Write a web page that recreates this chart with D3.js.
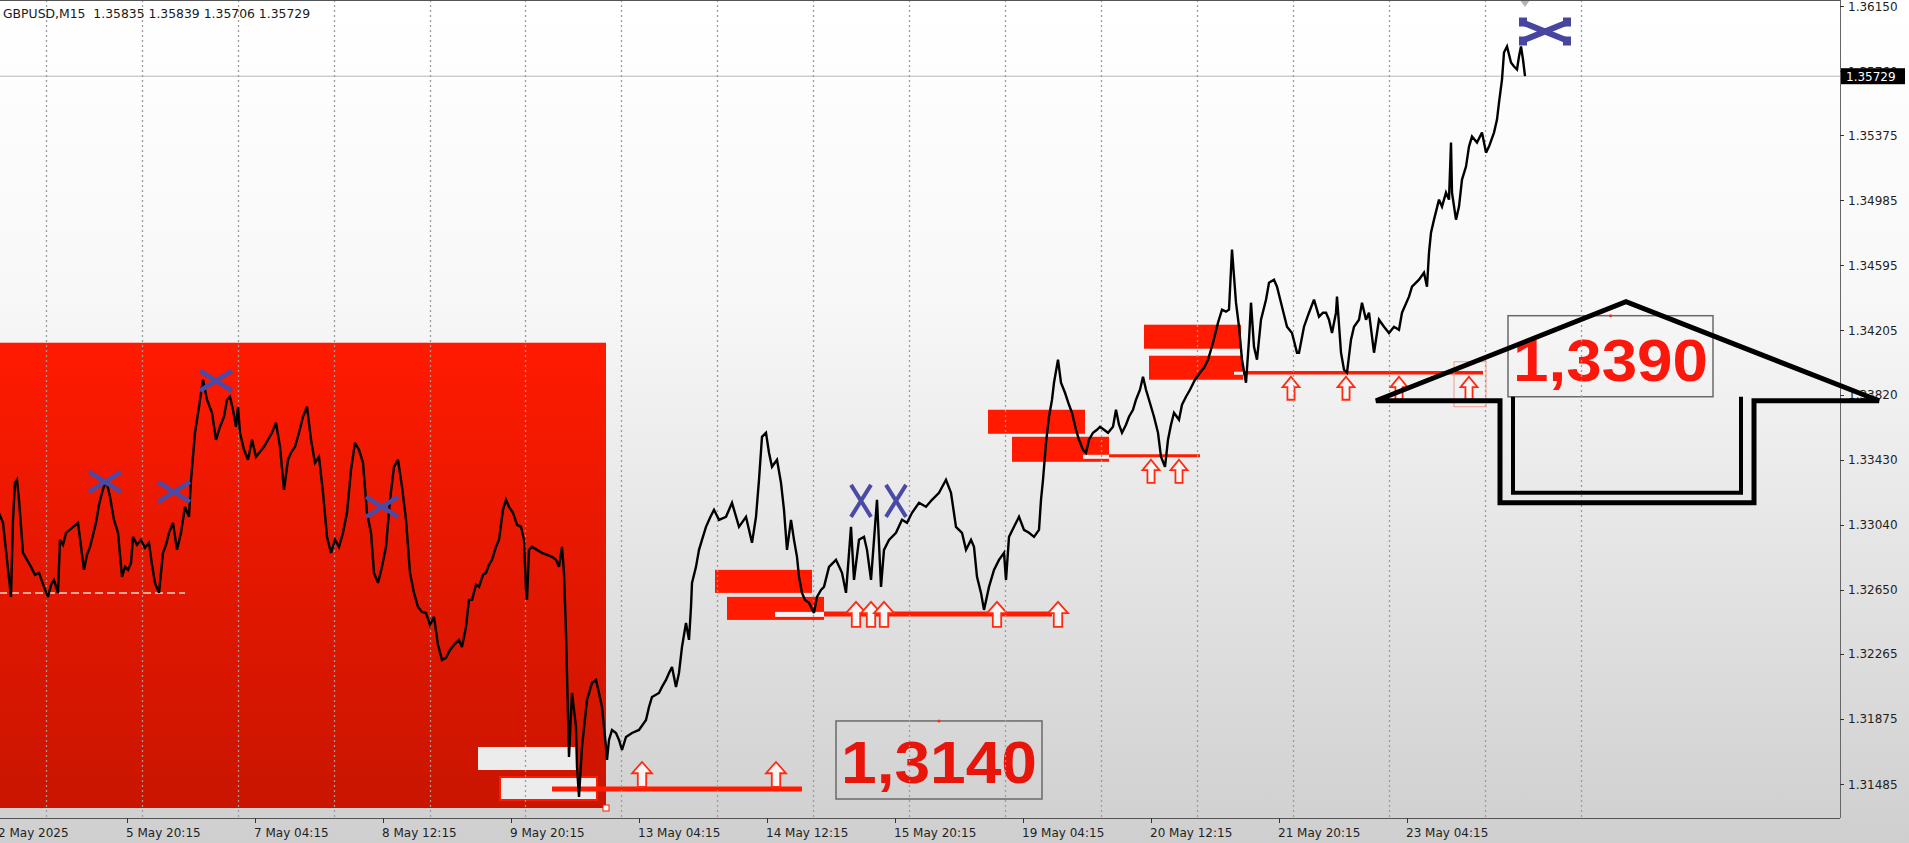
<!DOCTYPE html>
<html><head><meta charset="utf-8">
<script src="https://cdn.jsdelivr.net/npm/d3@7"></script>
<style>
html,body{margin:0;padding:0;background:#fff;overflow:hidden}
svg{display:block}
</style></head><body>
<svg id="c" width="1909" height="843"></svg>
<script>
// ---------- DATA ----------
const symbolTitle = "GBPUSD,M15  1.35835 1.35839 1.35706 1.35729";
const lastPrice = 1.35729;
const priceTicks = [1.36150,1.35760,1.35375,1.34985,1.34595,1.34205,1.33820,1.33430,1.33040,1.32650,1.32265,1.31875,1.31485];
// time axis: M15 bar number counted from 2 May 2025 12:15
const timeTickBars = [0,128,256,384,512,640,768,896,1024,1152,1280,1408];
const timeTickLabels = ["2 May 2025","5 May 20:15","7 May 04:15","8 May 12:15","9 May 20:15","13 May 04:15","14 May 12:15","15 May 20:15","19 May 04:15","20 May 12:15","21 May 20:15","23 May 04:15"];
const daySeparatorBars = [47,143,239,335,431,526,622,718,814,910,1006,1102,1198,1294,1390,1486,1582];
// [bar, price]
const gbpusd = [[0,1.33111],[4,1.33051],[8,1.32829],[12,1.32607],[14,1.33069],[16,1.33291],[18,1.33309],[20,1.33189],[24,1.32871],[28,1.32829],[32,1.32787],[36,1.32739],[40,1.32751],[45,1.32667],[49,1.32607],[52,1.32679],[55,1.32709],[59,1.32631],[61,1.32949],[64,1.32919],[67,1.32991],[73,1.33021],[79,1.33051],[85,1.32769],[88,1.32859],[91,1.32907],[97,1.33051],[100,1.33159],[103,1.33231],[107,1.33309],[111,1.33207],[115,1.33069],[119,1.32991],[123,1.32727],[126,1.32787],[129,1.32769],[132,1.32811],[134,1.32967],[138,1.32919],[142,1.32949],[146,1.32901],[150,1.32931],[153,1.32799],[156,1.32691],[160,1.32631],[164,1.32871],[167,1.32919],[170,1.32991],[174,1.33051],[178,1.32889],[182,1.32991],[186,1.33147],[190,1.33087],[192,1.33309],[196,1.33591],[200,1.33747],[204,1.33909],[208,1.33789],[213,1.33711],[217,1.33549],[221,1.33627],[225,1.33687],[228,1.33789],[231,1.33807],[234,1.33729],[237,1.33627],[239,1.33747],[241,1.33591],[245,1.33489],[249,1.33429],[253,1.33549],[257,1.33447],[261,1.33477],[265,1.33507],[269,1.33549],[273,1.33591],[277,1.33651],[281,1.33507],[285,1.33249],[289,1.33429],[292,1.33471],[296,1.33507],[300,1.33591],[304,1.33687],[308,1.33747],[312,1.33549],[316,1.33411],[320,1.33447],[324,1.33231],[328,1.32967],[332,1.32871],[336,1.32949],[340,1.32907],[344,1.32991],[348,1.33111],[352,1.33369],[356,1.33531],[360,1.33489],[364,1.33411],[368,1.33111],[372,1.32991],[375,1.32751],[379,1.32691],[383,1.32787],[387,1.32907],[391,1.33189],[395,1.33387],[399,1.33429],[403,1.33267],[407,1.33069],[411,1.32751],[415,1.32631],[419,1.32547],[423,1.32517],[427,1.32511],[431,1.32439],[435,1.32487],[439,1.32319],[443,1.32229],[447,1.32241],[451,1.32289],[455,1.32319],[460,1.32349],[463,1.32307],[467,1.32427],[470,1.32589],[473,1.32589],[477,1.32679],[480,1.32667],[484,1.32739],[487,1.32751],[490,1.32799],[493,1.32829],[497,1.32907],[500,1.32949],[504,1.33129],[507,1.33189],[510,1.33147],[514,1.33111],[518,1.33039],[522,1.33027],[525,1.32949],[527,1.32649],[528,1.32589],[530,1.32889],[533,1.32907],[538,1.32889],[543,1.32871],[548,1.32859],[553,1.32847],[557,1.32829],[560,1.32787],[563,1.32907],[565,1.32751],[567,1.32391],[570,1.31647],[573,1.32031],[575,1.31929],[577,1.31827],[578,1.31587],[580,1.31407],[583,1.31707],[588,1.31989],[593,1.32091],[597,1.32109],[600,1.32031],[603,1.31947],[607,1.31707],[608,1.31629],[610,1.31749],[613,1.31809],[617,1.31791],[620,1.31749],[623,1.31689],[627,1.31767],[633,1.31791],[640,1.31809],[647,1.31869],[650,1.31947],[653,1.32007],[660,1.32031],[663,1.32067],[667,1.32109],[670,1.32151],[673,1.32187],[677,1.32067],[680,1.32151],[683,1.32307],[687,1.32451],[690,1.32349],[692,1.32547],[693,1.32691],[697,1.32787],[700,1.32889],[703,1.32949],[707,1.33027],[711,1.33081],[715,1.33129],[720,1.33069],[727,1.33087],[733,1.33171],[740,1.33027],[747,1.33087],[753,1.32931],[757,1.33087],[760,1.33309],[763,1.33567],[767,1.33591],[770,1.33471],[773,1.33387],[778,1.33429],[782,1.33291],[785,1.33129],[788,1.32889],[792,1.33069],[795,1.32949],[798,1.32847],[800,1.32727],[803,1.32631],[806,1.32589],[810,1.32571],[815,1.32511],[818,1.32607],[822,1.32649],[825,1.32667],[830,1.32787],[837,1.32829],[843,1.32751],[847,1.32631],[852,1.33027],[855,1.32709],[860,1.32949],[865,1.32967],[868,1.32889],[872,1.32709],[875,1.32949],[878,1.33189],[882,1.32667],[885,1.32889],[890,1.32949],[897,1.32991],[903,1.33069],[908,1.33051],[913,1.33111],[920,1.33171],[927,1.33147],[933,1.33189],[940,1.33231],[947,1.33309],[952,1.33231],[957,1.33027],[963,1.32991],[967,1.32889],[972,1.32949],[975,1.32907],[978,1.32727],[982,1.32631],[985,1.32529],[990,1.32667],[995,1.32769],[1000,1.32829],[1005,1.32871],[1007,1.32709],[1010,1.32967],[1015,1.33027],[1020,1.33087],[1025,1.33009],[1030,1.32991],[1035,1.32967],[1040,1.33009],[1042,1.33189],[1044,1.33309],[1047,1.33531],[1050,1.33687],[1053,1.33789],[1055,1.33891],[1059,1.34029],[1062,1.33891],[1066,1.33831],[1070,1.33759],[1073,1.33711],[1077,1.33609],[1080,1.33549],[1084,1.33489],[1087,1.33471],[1090,1.33549],[1094,1.33591],[1098,1.33609],[1101,1.33627],[1105,1.33609],[1109,1.33591],[1114,1.33627],[1117,1.33729],[1120,1.33639],[1123,1.33591],[1127,1.33639],[1130,1.33687],[1134,1.33729],[1137,1.33789],[1141,1.33849],[1144,1.33927],[1147,1.33849],[1150,1.33789],[1155,1.33687],[1159,1.33591],[1162,1.33447],[1166,1.33387],[1169,1.33549],[1172,1.33639],[1175,1.33711],[1180,1.33669],[1183,1.33759],[1187,1.33807],[1191,1.33849],[1196,1.33909],[1201,1.33951],[1205,1.33981],[1209,1.34029],[1214,1.34131],[1219,1.34251],[1223,1.34329],[1227,1.34317],[1230,1.34329],[1233,1.34689],[1237,1.34371],[1240,1.34227],[1243,1.34029],[1247,1.33891],[1250,1.34149],[1252,1.34371],[1255,1.34107],[1258,1.34029],[1262,1.34269],[1267,1.34389],[1270,1.34491],[1275,1.34509],[1278,1.34467],[1283,1.34347],[1288,1.34227],[1293,1.34189],[1298,1.34071],[1300,1.34071],[1305,1.34227],[1310,1.34311],[1315,1.34389],[1320,1.34287],[1324,1.34311],[1327,1.34311],[1330,1.34269],[1333,1.34189],[1337,1.34311],[1338,1.34407],[1342,1.34071],[1345,1.33969],[1348,1.33951],[1352,1.34149],[1355,1.34227],[1360,1.34269],[1363,1.34371],[1367,1.34269],[1370,1.34311],[1375,1.34071],[1380,1.34269],[1385,1.34227],[1390,1.34189],[1395,1.34227],[1400,1.34209],[1403,1.34311],[1410,1.34407],[1413,1.34467],[1420,1.34509],[1425,1.34551],[1428,1.34467],[1430,1.34671],[1432,1.34791],[1435,1.34869],[1440,1.34989],[1443,1.34947],[1447,1.35031],[1450,1.34989],[1452,1.35331],[1453,1.35031],[1457,1.34869],[1460,1.34947],[1463,1.35109],[1467,1.35187],[1470,1.35307],[1473,1.35367],[1478,1.35331],[1483,1.35391],[1487,1.35271],[1490,1.35307],[1495,1.35391],[1498,1.35469],[1500,1.35571],[1503,1.35709],[1505,1.35871],[1508,1.35907],[1512,1.35811],[1515,1.35787],[1518,1.35769],[1520,1.35847],[1522,1.35907],[1524,1.35829],[1526,1.35729]];

// annotation objects: [startBar, endBar, topPrice, bottomPrice]
const bigZone = [0, 607, 1.34131, 1.31341];
const clearZones = [[479,577,1.31707,1.31569],[501,598,1.31527,1.31389]];
const redZones = [[716,813,1.32769,1.32631],[728,825,1.32607,1.32469],[989,1086,1.33729,1.33585],[1013,1110,1.33567,1.33417],[1145,1242,1.34239,1.34095],[1150,1244,1.34053,1.33909]];
const zoneStrips = [[776,825,1.32517,1.32487],[1084,1110,1.33459,1.33435],[1235,1244,1.33957,1.33939]];
// [startBar, endBar, price]
const supportLines = [[553,803,1.31455],[825,1053,1.32505],[1110,1201,1.33453],[1244,1484,1.33951]];
const dashedLevel = [0,186,1.32631];
// [bar, tipPrice]
const upArrows = [[643,1.31617],[777,1.31617],[857,1.32577],[872,1.32577],[885,1.32577],[998,1.32577],[1059,1.32577],[1152,1.33429],[1180,1.33429],[1292,1.33927],[1347,1.33927],[1400,1.33927],[1470,1.33927]];
const selectedArrowBox = [1455,1487,1.34017,1.33747];
const wideCrosses = [[106,1.33297],[175,1.33237],[217,1.33903],[383,1.33147]];
const tallCrosses = [[862,1.33183],[897,1.33183]];
const topCross = [1546,1.35997];
const levelLabels = ["1,3140","1,3390"];
const levelBoxes = [[837,1043,1.31863,1.31395],[1509,1714,1.34293,1.33807]];
const bigArrowRoof = [[1377,1.33783],[1627,1.34377],[1880,1.33783]];
const bigArrowStem = [1501,1755,1.33171];
const bigArrowInner = [1514,1742,1.33807,1.33231];

// ---------- DRAW ----------
const W=1909,H=843, plotR=1840, plotB=818;
const x = d3.scaleLinear().domain([0,1841]).range([-1,1840]);
const y = d3.scaleLinear().domain([1.31485,1.36150]).range([784,6]);
const svg = d3.select("#c");
const defs = svg.append("defs");
const bg = defs.append("linearGradient").attr("id","bg").attr("x1",0).attr("y1",0).attr("x2",0).attr("y2",1);
bg.append("stop").attr("offset","0").attr("stop-color","#ffffff");
bg.append("stop").attr("offset","0.35").attr("stop-color","#f8f8f8");
bg.append("stop").attr("offset","1").attr("stop-color","#cfcfcf");
const rg = defs.append("linearGradient").attr("id","rg").attr("x1",0).attr("y1",0).attr("x2",0).attr("y2",1);
rg.append("stop").attr("offset","0").attr("stop-color","#ff1a00");
rg.append("stop").attr("offset","1").attr("stop-color","#c91500");
defs.append("clipPath").attr("id","plot").append("rect").attr("x",0).attr("y",0).attr("width",plotR).attr("height",plotB);

svg.append("rect").attr("width",W).attr("height",H).attr("fill","url(#bg)");
const g = svg.append("g").attr("clip-path","url(#plot)");

// current price line
g.append("line").attr("x1",0).attr("x2",plotR).attr("y1",y(lastPrice)).attr("y2",y(lastPrice)).attr("stroke","#b9b9b9").attr("stroke-width",1);

// big red zone
g.append("rect").attr("x",x(bigZone[0])).attr("y",y(bigZone[2])).attr("width",x(bigZone[1])-x(bigZone[0])).attr("height",y(bigZone[3])-y(bigZone[2])).attr("fill","url(#rg)");
g.append("line").attr("x1",x(dashedLevel[0])).attr("x2",x(dashedLevel[1])).attr("y1",y(dashedLevel[2])).attr("y2",y(dashedLevel[2])).attr("stroke","#ffd2c8").attr("stroke-width",1.5).attr("stroke-dasharray","8,4");
clearZones.forEach((z,i)=>{
  g.append("rect").attr("x",x(z[0])).attr("y",y(z[2])).attr("width",x(z[1])-x(z[0])).attr("height",y(z[3])-y(z[2]))
   .attr("fill","#ececec").attr("stroke",i===1?"#ff1a00":"none").attr("stroke-width",2);
});
g.append("rect").attr("x",x(bigZone[1])-3).attr("y",y(bigZone[3])-3).attr("width",6).attr("height",6).attr("fill","#fff").attr("stroke","#ff1a00").attr("stroke-width",1);

// red zones
redZones.forEach(z=>{
  g.append("rect").attr("x",x(z[0])).attr("y",y(z[2])).attr("width",x(z[1])-x(z[0])).attr("height",y(z[3])-y(z[2])).attr("fill","#ff1a00");
});
zoneStrips.forEach(z=>{
  g.append("rect").attr("x",x(z[0])).attr("y",y(z[2])).attr("width",x(z[1])-x(z[0])).attr("height",Math.max(2,y(z[3])-y(z[2]))).attr("fill","#f4f4f4");
});
const lineW=[5,5,3,3.5];
supportLines.forEach((l,i)=>{
  g.append("line").attr("x1",x(l[0])).attr("x2",x(l[1])).attr("y1",y(l[2])).attr("y2",y(l[2])).attr("stroke","#ff1a00").attr("stroke-width",lineW[i]);
});
g.append("rect").attr("x",x(selectedArrowBox[0])).attr("y",y(selectedArrowBox[2])).attr("width",x(selectedArrowBox[1])-x(selectedArrowBox[0])).attr("height",y(selectedArrowBox[3])-y(selectedArrowBox[2])).attr("fill","none").attr("stroke","#f49a90").attr("stroke-width",1);
upArrows.forEach((a,i)=>{
  const big = i<7, w = big?20:17, h = big?25:23, hh = h*0.45, sw = w*0.42;
  const cx = x(a[0]), ty = y(a[1]);
  const p = `M${cx},${ty} L${cx+w/2},${ty+hh} L${cx+sw/2},${ty+hh} L${cx+sw/2},${ty+h} L${cx-sw/2},${ty+h} L${cx-sw/2},${ty+hh} L${cx-w/2},${ty+hh} Z`;
  g.append("path").attr("d",p).attr("fill","#f6f6f6").attr("stroke","#ff2a10").attr("stroke-width",1.8).attr("stroke-linejoin","miter");
});

// level boxes
levelBoxes.forEach((b,i)=>{
  const x0=x(b[0]), x1=x(b[1]), y0=y(b[2]), y1=y(b[3]);
  g.append("rect").attr("x",x0).attr("y",y0).attr("width",x1-x0).attr("height",y1-y0).attr("fill","none").attr("stroke","#6a6a6a").attr("stroke-width",1.5);
  g.append("text").attr("x",x0+5).attr("y",y1-16).text(levelLabels[i])
    .attr("font-family","'Liberation Sans',Arial,sans-serif").attr("font-weight","bold").attr("font-size",60)
    .attr("fill",i===0?"#e8150b":"#fb170c").attr("textLength",x1-x0-10).attr("lengthAdjust","spacingAndGlyphs");
  g.append("circle").attr("cx",(x0+x1)/2).attr("cy",y0).attr("r",1.5).attr("fill","#ff2a10");
});

// grid
g.selectAll(".grid").data(daySeparatorBars).enter().append("line")
  .attr("x1",d=>x(d)+0.5).attr("x2",d=>x(d)+0.5).attr("y1",0).attr("y2",plotB)
  .attr("stroke","#9c9c9c").attr("stroke-width",1.3).attr("stroke-dasharray","2,3");

// price line
g.append("path").datum(gbpusd).attr("d",d3.line().x(d=>x(d[0])).y(d=>y(d[1])))
  .attr("fill","none").attr("stroke","#000").attr("stroke-width",2.4).attr("stroke-linejoin","miter").attr("stroke-miterlimit",3);

// crosses
const xc="#4b4aa6";
wideCrosses.forEach(c=>{
  const cx=x(c[0]), cy=y(c[1]);
  g.append("path").attr("d",`M${cx-16},${cy-10} L${cx+16},${cy+10} M${cx-16},${cy+10} L${cx+16},${cy-10}`).attr("stroke",xc).attr("stroke-width",4.5).attr("fill","none");
});
tallCrosses.forEach(c=>{
  const cx=x(c[0]), cy=y(c[1]);
  g.append("path").attr("d",`M${cx-10},${cy-16} L${cx+10},${cy+16} M${cx-10},${cy+16} L${cx+10},${cy-16}`).attr("stroke",xc).attr("stroke-width",4).attr("fill","none");
});
{
  const cx=x(topCross[0]), cy=y(topCross[1]);
  g.append("path").attr("d",`M${cx-22},${cy-9} L${cx+22},${cy+9} M${cx-22},${cy+9} L${cx+22},${cy-9}`).attr("stroke","#4646a0").attr("stroke-width",6).attr("fill","none");
  [[-26,-14],[-26,5],[18,-14],[18,5]].forEach(o=>g.append("rect").attr("x",cx+o[0]).attr("y",cy+o[1]).attr("width",8).attr("height",9).attr("fill","#4646a0"));
  const tx=x(gbpusd[gbpusd.length-1][0]);
  g.append("path").attr("d",`M${tx-5},0 L${tx+5},0 L${tx},7 Z`).attr("fill","#b4b4b4");
}

// axes
svg.append("line").attr("x1",0).attr("x2",plotR).attr("y1",0.5).attr("y2",0.5).attr("stroke","#555").attr("stroke-width",1);
svg.append("line").attr("x1",plotR+0.5).attr("x2",plotR+0.5).attr("y1",0).attr("y2",plotB).attr("stroke","#666").attr("stroke-width",1);
svg.append("line").attr("x1",0).attr("x2",plotR).attr("y1",plotB+0.5).attr("y2",plotB+0.5).attr("stroke","#555").attr("stroke-width",1);
const ya = svg.append("g");
priceTicks.forEach(p=>{
  ya.append("line").attr("x1",plotR).attr("x2",plotR+4).attr("y1",Math.round(y(p))+0.5).attr("y2",Math.round(y(p))+0.5).attr("stroke","#333");
  ya.append("text").attr("x",plotR+8).attr("y",y(p)+4.5).text(p.toFixed(5)).attr("font-family","'DejaVu Sans',sans-serif").attr("font-size",12).attr("fill","#1f1f1f");
});
const xa = svg.append("g");
timeTickBars.forEach((b,i)=>{
  xa.append("line").attr("x1",x(b)+0.5).attr("x2",x(b)+0.5).attr("y1",plotB).attr("y2",plotB+5).attr("stroke","#333");
  xa.append("text").attr("x",x(b)-1).attr("y",837).text(timeTickLabels[i]).attr("font-family","'DejaVu Sans',sans-serif").attr("font-size",12).attr("fill","#1f1f1f");
});
// last price tag
svg.append("rect").attr("x",plotR+1).attr("y",y(lastPrice)-8).attr("width",64).attr("height",16).attr("fill","#000");
svg.append("text").attr("x",plotR+6).attr("y",y(lastPrice)+4.5).text(lastPrice.toFixed(5)).attr("font-family","'DejaVu Sans',sans-serif").attr("font-size",12).attr("fill","#fff");
// title
svg.append("text").attr("x",3).attr("y",18).text(symbolTitle).attr("xml:space","preserve").style("white-space","pre")
  .attr("font-family","'DejaVu Sans',sans-serif").attr("font-size",12.4).attr("fill","#1a1a1a");

// big black arrow (drawn over axis)
{
  const r = bigArrowRoof.map(d=>[x(d[0]),y(d[1])]);
  const sx0=x(bigArrowStem[0]), sx1=x(bigArrowStem[1]), sb=y(bigArrowStem[2]);
  const ix0=x(bigArrowInner[0]), ix1=x(bigArrowInner[1]), it=y(bigArrowInner[2]), ib=y(bigArrowInner[3]);
  const outer = `M${r[0][0]},${r[0][1]} L${r[1][0]},${r[1][1]} L${r[2][0]},${r[2][1]} L${sx1},${r[2][1]} L${sx1},${sb} L${sx0},${sb} L${sx0},${r[0][1]} Z`;
  svg.append("path").attr("d",outer).attr("fill","none").attr("stroke","#000").attr("stroke-width",5).attr("stroke-linejoin","miter");
  svg.append("path").attr("d",`M${ix0},${it} L${ix0},${ib} L${ix1},${ib} L${ix1},${it}`).attr("fill","none").attr("stroke","#000").attr("stroke-width",4);
}
</script>
</body></html>
